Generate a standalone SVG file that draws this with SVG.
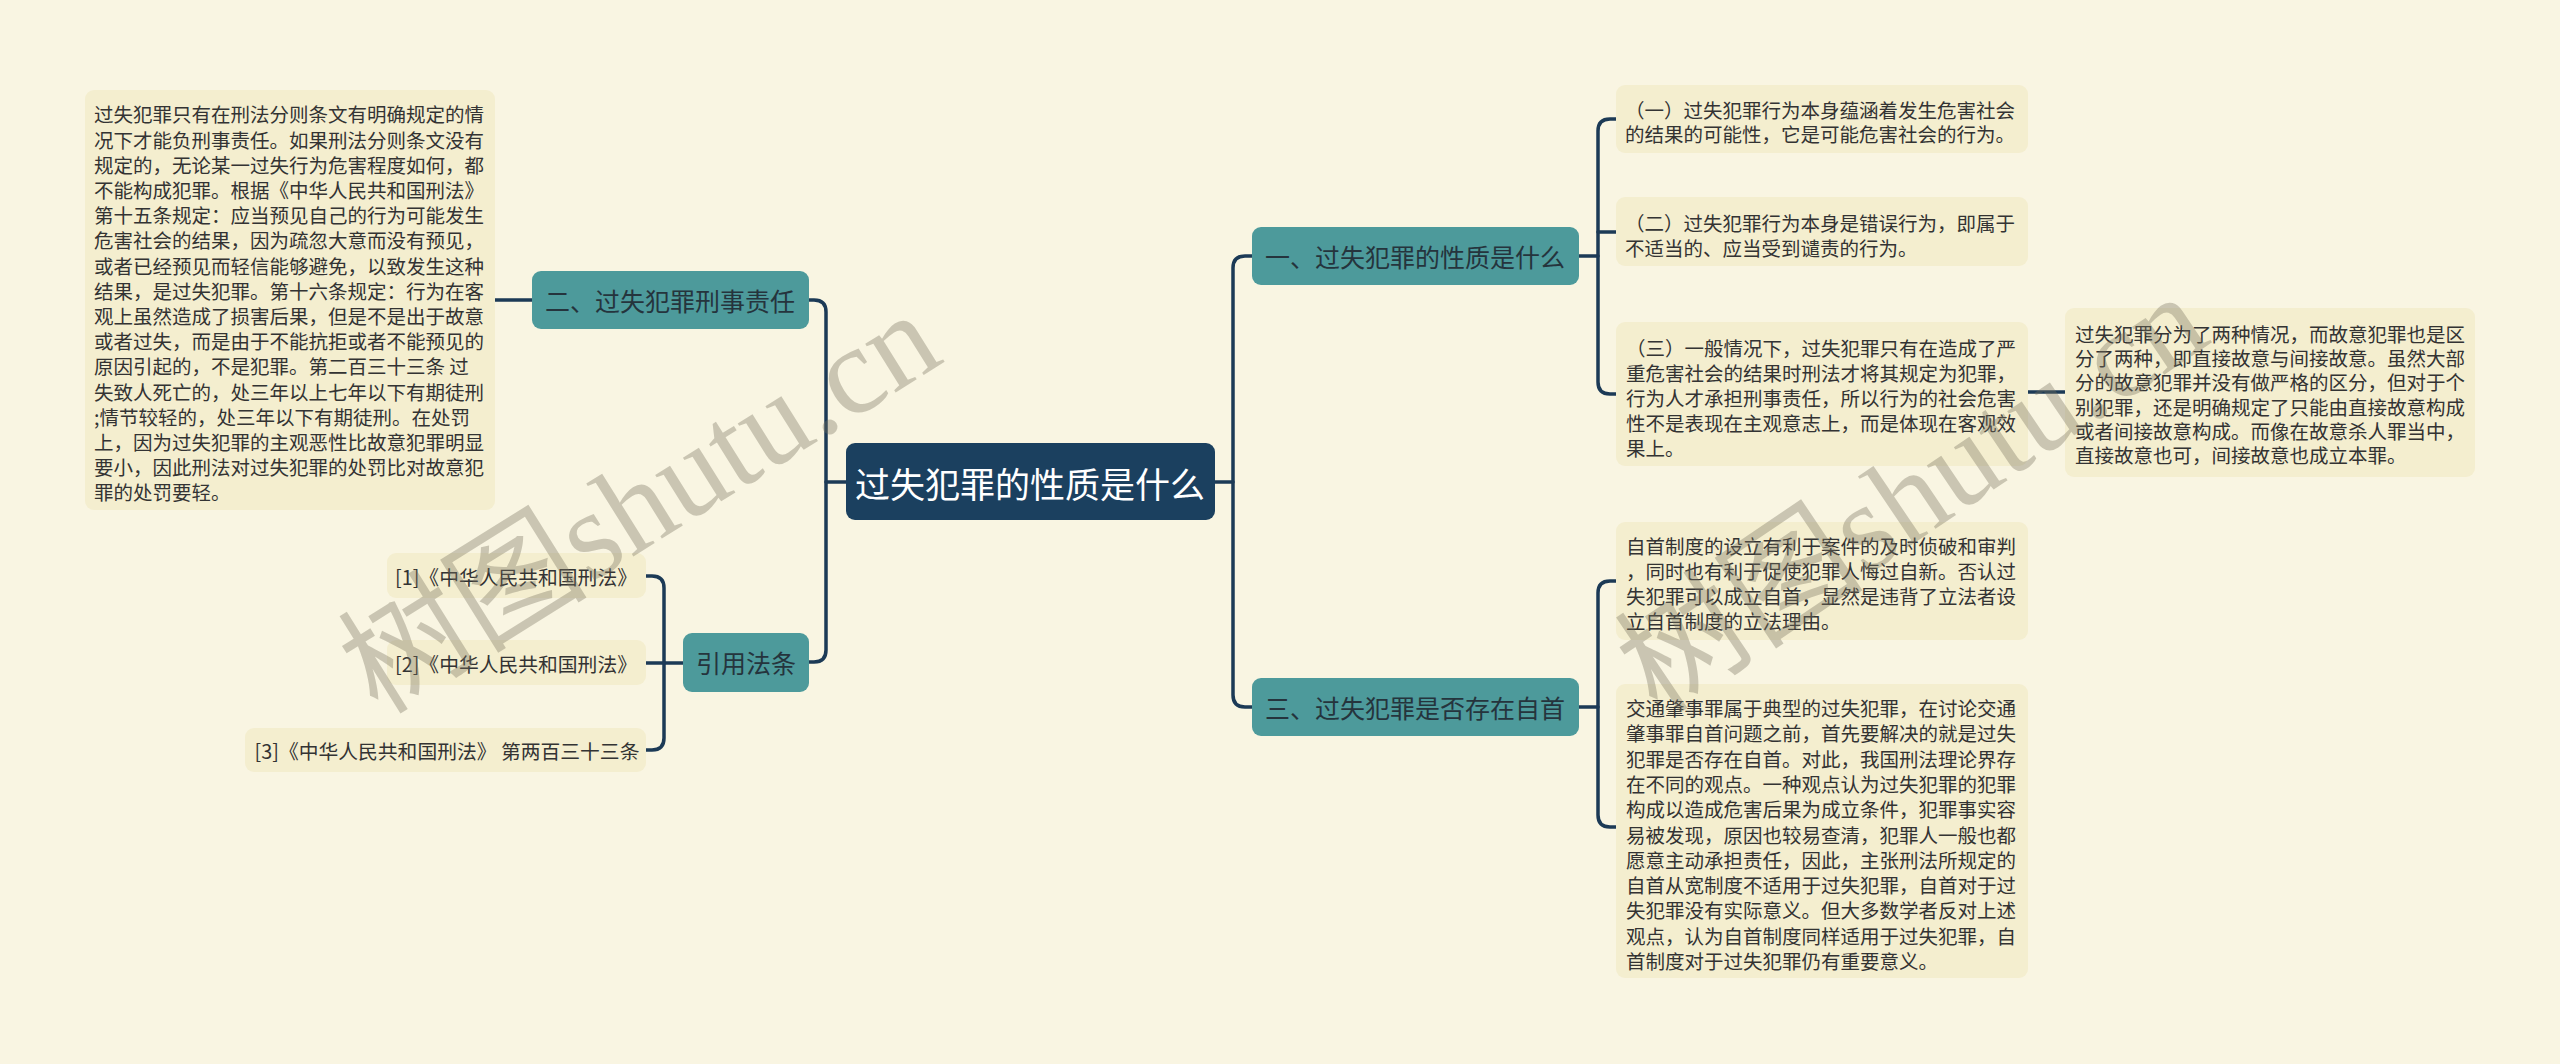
<svg xmlns="http://www.w3.org/2000/svg" width="2560" height="1064" viewBox="0 0 2560 1064">
<style>
.bg{fill:#f9f5e2}
.leaf{fill:#f4eecf}
.main{fill:#4d9a9b}
.root{fill:#1b405f}
.ln{fill:none;stroke:#1c3a56;stroke-width:3.5;stroke-linecap:round;stroke-linejoin:round}
text{font-family:"Noto Sans CJK SC","Microsoft YaHei",sans-serif;dominant-baseline:central}
.t{font-size:19.5px;fill:#333333}
.r{font-size:19.8px;fill:#333333;text-anchor:middle}
.m{font-size:25px;fill:#25343d;text-anchor:middle}
.c{font-size:35px;fill:#ffffff;text-anchor:middle}
.wm{font-family:"Liberation Serif","Noto Sans CJK SC",serif;font-size:125px;fill:#76735f;fill-opacity:0.36;dominant-baseline:auto}
</style>
<rect class="bg" x="0" y="0" width="2560" height="1064"/>
<g id="connectors">
<path class="ln" d="M846,482 H826"/>
<path class="ln" d="M809,300 H814 Q826,300 826,312 V650 Q826,662 814,662 H809"/>
<path class="ln" d="M532,300 H495"/>
<path class="ln" d="M683,663 H664"/>
<path class="ln" d="M646,576 H652 Q664,576 664,588 V738 Q664,750 652,750 H646"/>
<path class="ln" d="M646,663 H664"/>
<path class="ln" d="M1215,482 H1233"/>
<path class="ln" d="M1252,256 H1245 Q1233,256 1233,268 V695 Q1233,707 1245,707 H1252"/>
<path class="ln" d="M1579,256 H1598"/>
<path class="ln" d="M1616,119 H1610 Q1598,119 1598,131 V382 Q1598,394 1610,394 H1616"/>
<path class="ln" d="M1598,232 H1616"/>
<path class="ln" d="M2028,392 H2065"/>
<path class="ln" d="M1579,707 H1598"/>
<path class="ln" d="M1616,581 H1610 Q1598,581 1598,593 V815 Q1598,827 1610,827 H1616"/>
</g>
<g id="root">
<rect class="root" x="846" y="443" width="369" height="77" rx="9"/>
<text class="c" x="1030" y="482">过失犯罪的性质是什么</text>
</g>
<g id="n-xingshi">
<rect class="main" x="532" y="271" width="277" height="58" rx="9"/>
<text class="m" x="670" y="300">二、过失犯罪刑事责任</text>
</g>
<g id="n-xingshi-text">
<rect class="leaf" x="85" y="90" width="410" height="420" rx="9"/>
<text class="t">
<tspan x="94" y="113.3">过失犯罪只有在刑法分则条文有明确规定的情</tspan>
<tspan x="94" y="138.5">况下才能负刑事责任。如果刑法分则条文没有</tspan>
<tspan x="94" y="163.7">规定的，无论某一过失行为危害程度如何，都</tspan>
<tspan x="94" y="188.9">不能构成犯罪。根据《中华人民共和国刑法》</tspan>
<tspan x="94" y="214.1">第十五条规定：应当预见自己的行为可能发生</tspan>
<tspan x="94" y="239.3">危害社会的结果，因为疏忽大意而没有预见，</tspan>
<tspan x="94" y="264.5">或者已经预见而轻信能够避免，以致发生这种</tspan>
<tspan x="94" y="289.7">结果，是过失犯罪。第十六条规定：行为在客</tspan>
<tspan x="94" y="314.9">观上虽然造成了损害后果，但是不是出于故意</tspan>
<tspan x="94" y="340.1">或者过失，而是由于不能抗拒或者不能预见的</tspan>
<tspan x="94" y="365.3">原因引起的，不是犯罪。第二百三十三条 过</tspan>
<tspan x="94" y="390.5">失致人死亡的，处三年以上七年以下有期徒刑</tspan>
<tspan x="94" y="415.7">;情节较轻的，处三年以下有期徒刑。在处罚</tspan>
<tspan x="94" y="440.9">上，因为过失犯罪的主观恶性比故意犯罪明显</tspan>
<tspan x="94" y="466.1">要小，因此刑法对过失犯罪的处罚比对故意犯</tspan>
<tspan x="94" y="491.3">罪的处罚要轻。</tspan>
</text>
</g>
<g id="n-yinyong">
<rect class="main" x="683" y="633" width="126" height="59" rx="9"/>
<text class="m" x="746" y="662">引用法条</text>
</g>
<g id="ref1">
<rect class="leaf" x="387" y="553" width="259" height="45" rx="9"/>
<text class="r" x="516" y="576">[1]《中华人民共和国刑法》</text>
</g>
<g id="ref2">
<rect class="leaf" x="387" y="640" width="259" height="45" rx="9"/>
<text class="r" x="516" y="663">[2]《中华人民共和国刑法》</text>
</g>
<g id="ref3">
<rect class="leaf" x="245" y="728" width="401" height="44" rx="9"/>
<text class="r" x="447" y="750">[3]《中华人民共和国刑法》 第两百三十三条</text>
</g>
<g id="n-xingzhi">
<rect class="main" x="1252" y="227" width="327" height="58" rx="9"/>
<text class="m" x="1415" y="256">一、过失犯罪的性质是什么</text>
</g>
<g id="xz1">
<rect class="leaf" x="1616" y="85" width="412" height="68" rx="9"/>
<text class="t"><tspan x="1625" y="109">（一）过失犯罪行为本身蕴涵着发生危害社会</tspan><tspan x="1625" y="133">的结果的可能性，它是可能危害社会的行为。</tspan></text>
</g>
<g id="xz2">
<rect class="leaf" x="1616" y="197" width="412" height="69" rx="9"/>
<text class="t"><tspan x="1625" y="222">（二）过失犯罪行为本身是错误行为，即属于</tspan><tspan x="1625" y="247">不适当的、应当受到谴责的行为。</tspan></text>
</g>
<g id="xz3">
<rect class="leaf" x="1616" y="322" width="412" height="144" rx="9"/>
<text class="t">
<tspan x="1626" y="347">（三）一般情况下，过失犯罪只有在造成了严</tspan>
<tspan x="1626" y="372">重危害社会的结果时刑法才将其规定为犯罪，</tspan>
<tspan x="1626" y="397">行为人才承担刑事责任，所以行为的社会危害</tspan>
<tspan x="1626" y="422">性不是表现在主观意志上，而是体现在客观效</tspan>
<tspan x="1626" y="447">果上。</tspan>
</text>
</g>
<g id="xz3-1">
<rect class="leaf" x="2065" y="308" width="410" height="169" rx="9"/>
<text class="t">
<tspan x="2075" y="333">过失犯罪分为了两种情况，而故意犯罪也是区</tspan>
<tspan x="2075" y="357.2">分了两种，即直接故意与间接故意。虽然大部</tspan>
<tspan x="2075" y="381.4">分的故意犯罪并没有做严格的区分，但对于个</tspan>
<tspan x="2075" y="405.6">别犯罪，还是明确规定了只能由直接故意构成</tspan>
<tspan x="2075" y="429.8">或者间接故意构成。而像在故意杀人罪当中，</tspan>
<tspan x="2075" y="454">直接故意也可，间接故意也成立本罪。</tspan>
</text>
</g>
<g id="n-zishou">
<rect class="main" x="1252" y="678" width="327" height="58" rx="9"/>
<text class="m" x="1415" y="707">三、过失犯罪是否存在自首</text>
</g>
<g id="zs1">
<rect class="leaf" x="1616" y="522" width="412" height="118" rx="9"/>
<text class="t">
<tspan x="1626" y="545">自首制度的设立有利于案件的及时侦破和审判</tspan>
<tspan x="1626" y="570">，同时也有利于促使犯罪人悔过自新。否认过</tspan>
<tspan x="1626" y="595">失犯罪可以成立自首，显然是违背了立法者设</tspan>
<tspan x="1626" y="620">立自首制度的立法理由。</tspan>
</text>
</g>
<g id="zs2">
<rect class="leaf" x="1616" y="684" width="412" height="294" rx="9"/>
<text class="t">
<tspan x="1626" y="707">交通肇事罪属于典型的过失犯罪，在讨论交通</tspan>
<tspan x="1626" y="732.3">肇事罪自首问题之前，首先要解决的就是过失</tspan>
<tspan x="1626" y="757.6">犯罪是否存在自首。对此，我国刑法理论界存</tspan>
<tspan x="1626" y="782.9">在不同的观点。一种观点认为过失犯罪的犯罪</tspan>
<tspan x="1626" y="808.2">构成以造成危害后果为成立条件，犯罪事实容</tspan>
<tspan x="1626" y="833.5">易被发现，原因也较易查清，犯罪人一般也都</tspan>
<tspan x="1626" y="858.8">愿意主动承担责任，因此，主张刑法所规定的</tspan>
<tspan x="1626" y="884.1">自首从宽制度不适用于过失犯罪，自首对于过</tspan>
<tspan x="1626" y="909.4">失犯罪没有实际意义。但大多数学者反对上述</tspan>
<tspan x="1626" y="934.7">观点，认为自首制度同样适用于过失犯罪，自</tspan>
<tspan x="1626" y="960">首制度对于过失犯罪仍有重要意义。</tspan>
</text>
</g>
<g id="watermarks">
<text class="wm" transform="translate(378,716) rotate(-32)">树图shutu.cn</text>
<text class="wm" transform="translate(1658,716) rotate(-34)">树图shutu.cn</text>
</g>
</svg>
